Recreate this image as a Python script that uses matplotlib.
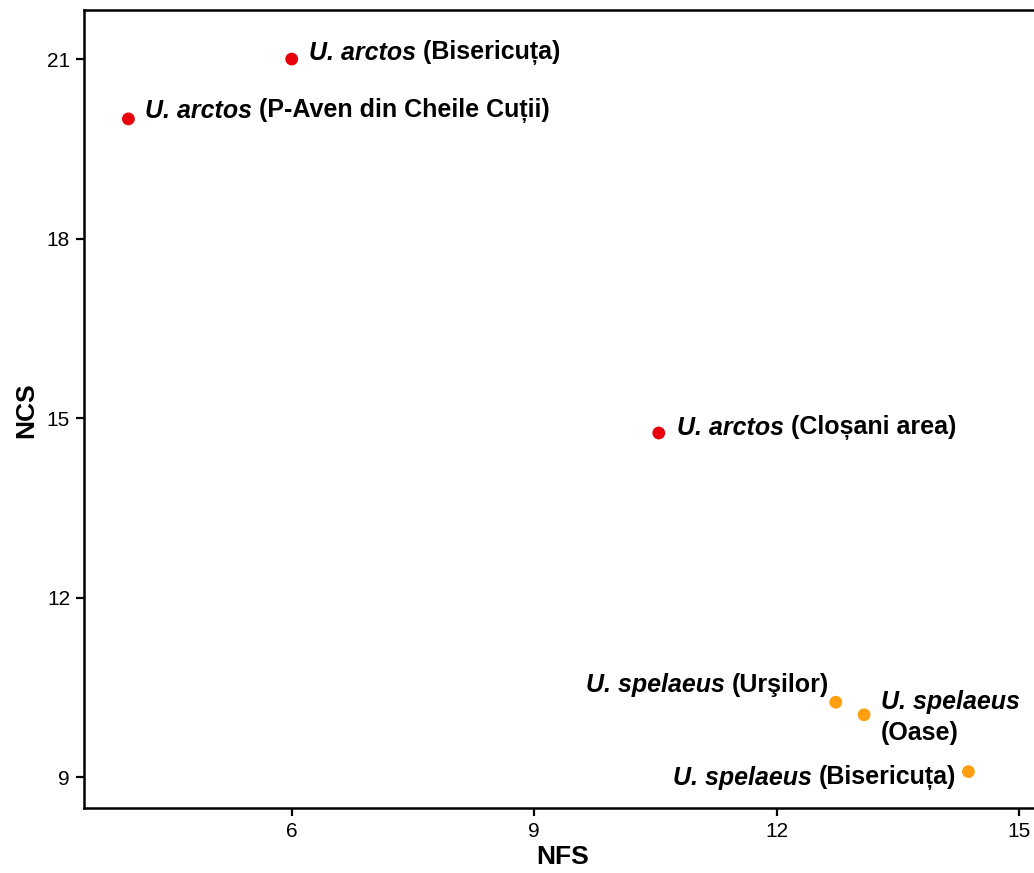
import matplotlib
matplotlib.use("Agg")
import matplotlib.pyplot as plt
from matplotlib.transforms import offset_copy

plt.rcParams['font.family'] = ['Liberation Sans', 'DejaVu Sans']

# Data
species = ["U. arctos", "U. arctos", "U. arctos", "U. spelaeus", "U. spelaeus", "U. spelaeus"]
sites = ["(Bisericuța)", "(P-Aven din Cheile Cuții)", "(Cloșani area)",
         "(Urşilor)", "(Oase)", "(Bisericuța)"]
nfs = [6.0, 3.98, 10.54, 12.73, 13.08, 14.37]
ncs = [21.0, 20.0, 14.75, 10.25, 10.04, 9.09]
point_colors = ["#e8000b", "#e8000b", "#e8000b", "#ff9f10", "#ff9f10", "#ff9f10"]
x_ticks = [6, 9, 12, 15]
y_ticks = [9, 12, 15, 18, 21]

W, H, DPI = 1034, 873, 100
L, R, T, B = 84, 1060, 10, 808
fig = plt.figure(figsize=(W / DPI, H / DPI), dpi=DPI)
ax = fig.add_axes([L / W, 1 - B / H, (R - L) / W, (B - T) / H])

ax.scatter(nfs, ncs, s=85, c=point_colors, zorder=3, linewidths=0)

ax.set_xlim(3.431, 15.503)
ax.set_ylim(8.482, 21.82)
ax.set_xticks(x_ticks)
ax.set_yticks(y_ticks)
ax.tick_params(labelsize=15, length=6, width=1.6, colors='black', pad=4)
for sp in ax.spines.values():
    sp.set_linewidth(1.8)
ax.spines['right'].set_visible(False)

ax.set_xlabel("NFS", fontsize=19, fontweight='bold', va='center')
ax.set_ylabel("NCS", fontsize=19, fontweight='bold', va='center')
ax.xaxis.set_label_coords((562.5 - L) / (R - L), (B - 857) / (B - T))
ax.yaxis.set_label_coords((26 - L) / (R - L), (B - 410) / (B - T))

fs = 18
px = 72 / DPI
# label placement: (dx px, dy px, align)
placements = [
    (17, 6, 'left'),
    (17, 8, 'left'),
    (18, 5, 'left'),
    (-7, 17, 'right'),
    (17, 0, 'oase'),
    (-12, -6, 'right'),
]

fig.canvas.draw()
for sp_name, site, x, y, (dx, dy, al) in zip(species, sites, nfs, ncs, placements):
    if al == 'left':
        tr = offset_copy(ax.transData, fig=fig, x=dx * px, y=dy * px, units='points')
        t1 = ax.text(x, y, sp_name, transform=tr, fontsize=fs, fontweight='bold',
                     fontstyle='italic', ha='left', va='center')
        ax.annotate(" " + site, xy=(1, 0), xycoords=t1, fontsize=fs, fontweight='bold',
                    ha='left', va='bottom')
    elif al == 'right':
        tr = offset_copy(ax.transData, fig=fig, x=dx * px, y=dy * px, units='points')
        t2 = ax.text(x, y, site, transform=tr, fontsize=fs, fontweight='bold',
                     ha='right', va='center')
        ax.annotate(sp_name + " ", xy=(0, 0), xycoords=t2, fontsize=fs, fontweight='bold',
                    fontstyle='italic', ha='right', va='bottom')
    else:
        tr = offset_copy(ax.transData, fig=fig, x=dx * px, y=13 * px, units='points')
        ax.text(x, y, sp_name, transform=tr, fontsize=fs, fontweight='bold',
                fontstyle='italic', ha='left', va='center')
        tr2 = offset_copy(ax.transData, fig=fig, x=dx * px, y=-18 * px, units='points')
        ax.text(x, y, site, transform=tr2, fontsize=fs, fontweight='bold',
                ha='left', va='center')

fig.savefig("out.png", dpi=DPI)
